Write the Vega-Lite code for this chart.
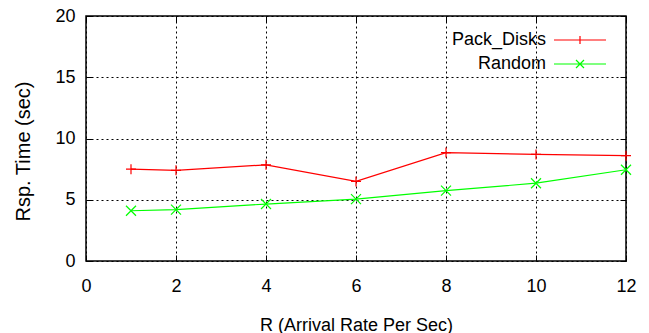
{
  "$schema": "https://vega.github.io/schema/vega-lite/v6.json",
  "width": 540,
  "height": 245,
  "autosize": {"type": "none"},
  "padding": {"left": 86, "top": 16, "right": 23, "bottom": 72},
  "background": "white",
  "config": {
    "view": {"stroke": "black", "strokeWidth": 1.5},
    "font": "Liberation Sans",
    "axis": {
      "domain": false,
      "labelFlush": false,
      "tickColor": "black",
      "tickWidth": 1,
      "labelFont": "Liberation Sans",
      "labelFontSize": 18,
      "labelColor": "black",
      "titleFont": "Liberation Sans",
      "titleFontSize": 18,
      "titleFontWeight": "normal",
      "titleColor": "black",
      "gridColor": "black",
      "gridOpacity": 1,
      "gridWidth": 1,
      "gridDash": [2, 3]
    }
  },
  "data": {
    "values": [
      {"rate": 1, "time": 7.5, "series": "Pack_Disks"},
      {"rate": 2, "time": 7.4, "series": "Pack_Disks"},
      {"rate": 4, "time": 7.85, "series": "Pack_Disks"},
      {"rate": 6, "time": 6.5, "series": "Pack_Disks"},
      {"rate": 8, "time": 8.85, "series": "Pack_Disks"},
      {"rate": 10, "time": 8.7, "series": "Pack_Disks"},
      {"rate": 12, "time": 8.6, "series": "Pack_Disks"},
      {"rate": 1, "time": 4.1, "series": "Random"},
      {"rate": 2, "time": 4.2, "series": "Random"},
      {"rate": 4, "time": 4.65, "series": "Random"},
      {"rate": 6, "time": 5.05, "series": "Random"},
      {"rate": 8, "time": 5.75, "series": "Random"},
      {"rate": 10, "time": 6.35, "series": "Random"},
      {"rate": 12, "time": 7.45, "series": "Random"}
    ]
  },
  "layer": [
    {
      "mark": {"type": "line", "strokeWidth": 1.2},
      "encoding": {
        "x": {
          "field": "rate", "type": "quantitative",
          "scale": {"domain": [0, 12], "nice": false, "zero": true},
          "axis": {
            "orient": "bottom",
            "values": [0, 2, 4, 6, 8, 10, 12],
            "grid": true,
            "tickSize": -6,
            "labelPadding": 22,
            "title": "R (Arrival Rate Per Sec)",
            "titleY": 69,
            "titleBaseline": "alphabetic"
          }
        },
        "y": {
          "field": "time", "type": "quantitative",
          "scale": {"domain": [0, 20], "nice": false},
          "axis": {
            "orient": "left",
            "values": [0, 5, 10, 15, 20],
            "grid": true,
            "tickSize": -6,
            "labelPadding": 17,
            "title": "Rsp. Time (sec)",
            "titleFontSize": 20,
            "titleX": -57,
            "titleY": 135,
            "titleAngle": 270,
            "titleAlign": "center",
            "titleBaseline": "alphabetic"
          }
        },
        "color": {
          "field": "series", "type": "nominal",
          "scale": {"domain": ["Pack_Disks", "Random"], "range": ["#ff0000", "#00ff00"]},
          "legend": {
            "title": null,
            "orient": "none",
            "legendX": 485,
            "legendY": 15,
            "padding": 0,
            "symbolSize": 64,
            "symbolStrokeWidth": 1.2,
            "symbolOffset": 0,
            "labelFontSize": 18,
            "labelFont": "Liberation Sans",
            "labelColor": "black",
            "labelAlign": "right",
            "labelOffset": -43,
            "labelLimit": 300,
            "rowPadding": 6,
            "encode": {
              "symbols": {
                "update": {
                  "shape": {"signal": "datum.value === 'Pack_Disks' ? 'M-6.5,0H6.5M0,-1V1' : 'M-6.5,0H6.5M-1,-1L1,1M-1,1L1,-1'"},
                  "fill": {"value": "transparent"},
                  "strokeWidth": {"value": 1.2}
                }
              }
            }
          }
        }
      }
    },
    {
      "transform": [{"filter": "datum.series === 'Pack_Disks'"}],
      "mark": {"type": "point", "filled": false, "strokeWidth": 1.2, "size": 100, "opacity": 1, "shape": "M-1,0H1M0,-1V1"},
      "encoding": {
        "x": {
          "field": "rate", "type": "quantitative",
          "axis": {
            "orient": "top",
            "values": [0, 2, 4, 6, 8, 10, 12],
            "labels": false,
            "title": null,
            "grid": false,
            "tickSize": -6
          }
        },
        "y": {
          "field": "time", "type": "quantitative",
          "axis": {
            "orient": "right",
            "values": [0, 5, 10, 15, 20],
            "labels": false,
            "title": null,
            "grid": false,
            "tickSize": -6
          }
        },
        "color": {"field": "series", "type": "nominal"}
      }
    },
    {
      "transform": [{"filter": "datum.series === 'Random'"}],
      "mark": {"type": "point", "filled": false, "strokeWidth": 1.2, "size": 100, "opacity": 1, "shape": "M-1,-1L1,1M-1,1L1,-1"},
      "encoding": {
        "x": {"field": "rate", "type": "quantitative", "axis": null},
        "y": {"field": "time", "type": "quantitative", "axis": null},
        "color": {"field": "series", "type": "nominal"}
      }
    }
  ],
  "resolve": {"axis": {"x": "independent", "y": "independent"}}
}
